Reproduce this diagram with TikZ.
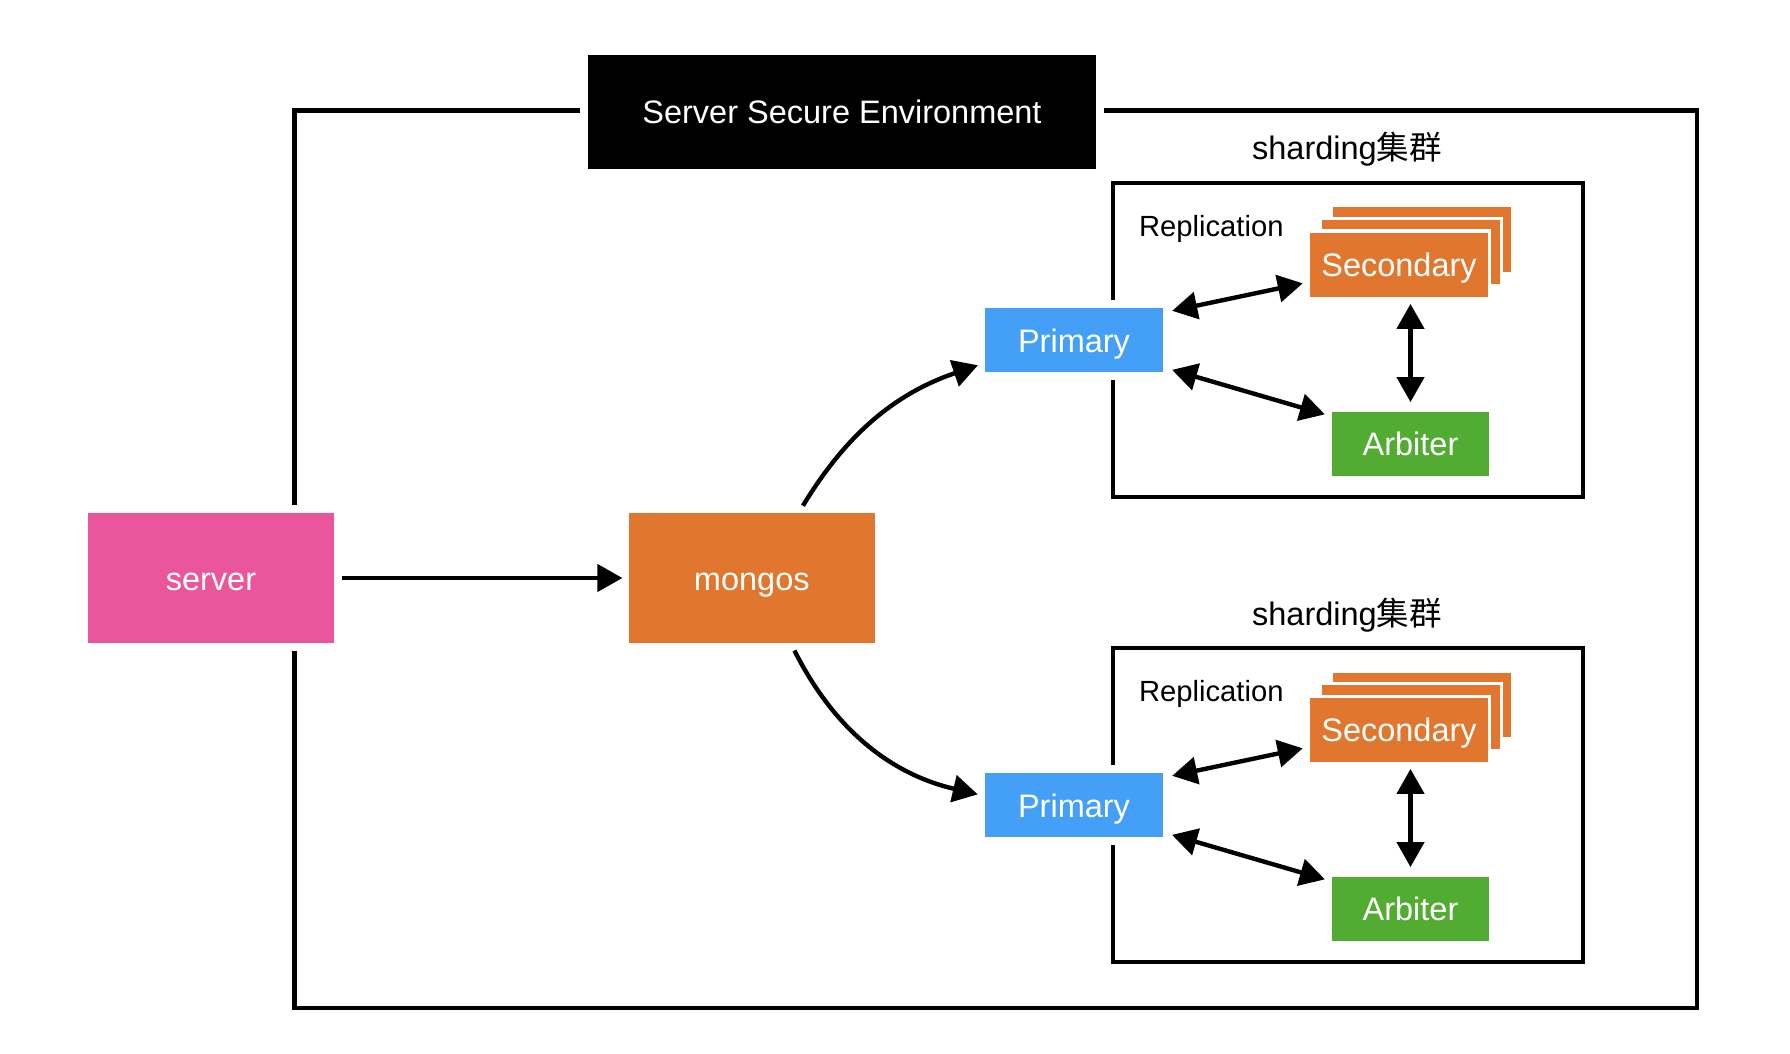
\documentclass[tikz,border=0pt]{standalone}
\usepackage{fontspec}
\setmainfont{Liberation Sans}
\newfontfamily\cjk{Noto Sans CJK SC}
\usetikzlibrary{backgrounds}
\usetikzlibrary{calc,positioning,arrows.meta}

\definecolor{pinkc}{RGB}{234,85,155}
\definecolor{orangec}{RGB}{225,119,47}
\definecolor{bluec}{RGB}{68,160,247}
\definecolor{greenc}{RGB}{83,172,50}

\begin{document}
\begin{tikzpicture}[
    x=0.5pt, y=-0.5pt,
    >={Triangle[length=12.5pt,width=13.5pt]},
    every node/.style={font=\fontsize{16.25}{19}\selectfont},
    box/.style={fill=#1, text=white, inner sep=0pt, minimum width=89pt, minimum height=32pt,
        text height=13pt, text depth=1pt},
    halo/.style={preaction={draw=white, line width=#1}},
    halo/.default=8pt,
    frame/.style={draw=black, line width=2.2pt},
    link/.style={draw=black, line width=2.2pt},
 ]
    \useasboundingbox (0,0) rectangle (1790,1054);

    \node[box=black, halo, minimum width=254pt, minimum height=57pt] (env) at (842,112) {Server Secure Environment};
    \node[box=pinkc, halo, minimum width=123pt, minimum height=65pt] (server) at (211,578) {server};
    \node[box=orangec, halo, minimum width=123pt, minimum height=65pt, right=147pt of server] (mongos) {mongos};

    \foreach \g/\dy in {a/0, b/465} {
        \node[anchor=base] (shd\g) at (1347,160+\dy) {sharding{\cjk 集群}};
        \node[anchor=west, font=\fontsize{14.6}{17}\selectfont] (rep\g) at (1132,229+\dy) {Replication};
        \node[box=bluec, halo] (pri\g) at (1074,340+\dy) {Primary};
        \node[box=orangec, halo=3pt] (sec\g) at (1399,264.5+\dy) {Secondary};
        \node[box=greenc, halo, minimum width=78.5pt] (arb\g) at (1410.5,443.5+\dy) {Arbiter};

        \draw[link, <->, shorten <=4.5pt, shorten >=3.5pt] (pri\g.17) -- (sec\g.191);
        \draw[link, <->, shorten <=4.5pt, shorten >=3.5pt] (pri\g.-17) -- (arb\g.161);
        \draw[link, <->, shorten <=3.5pt, shorten >=4.5pt] (sec\g.south -| arb\g.north) -- (arb\g.north);
    }

    \draw[link, ->, shorten <=4pt, shorten >=3pt] (server) -- (mongos);
    \draw[link, ->, shorten <=4pt, shorten >=3.5pt] ($(mongos.north)+(47,0)$) to[bend left=20] ($(pria.west)+(0,23)$);
    \draw[link, ->, shorten <=4pt, shorten >=3.5pt] ($(mongos.south)+(39,0)$) to[bend right=25] ($(prib.west)+(0,-9)$);

    \begin{scope}[on background layer]
        \draw[frame] (294.5,110.7) rectangle (1697,1008);
        \foreach \g/\dy in {a/0, b/465} {
            \draw[frame] (1113,183+\dy) rectangle (1583,497+\dy);
            \node[box=orangec, halo=3pt] at ($(sec\g)+(22.5,-25)$) {};
            \node[box=orangec, halo=3pt] at ($(sec\g)+(11.5,-12.5)$) {};
        }
    \end{scope}

\end{tikzpicture}
\end{document}
